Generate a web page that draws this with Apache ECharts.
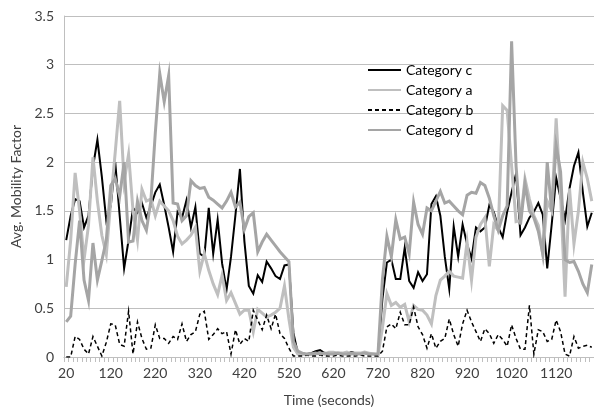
<!DOCTYPE html>
<html>
<head>
<meta charset="utf-8">
<script src="https://cdn.jsdelivr.net/npm/echarts@6/dist/echarts.min.js"></script>
<style>
html,body{margin:0;padding:0;background:#fff;}
#chart{width:594px;height:412px;}
</style>
</head>
<body>
<div id="chart"></div>
<script>
// Time categories (seconds), one every 10 s
var times = [];
for (var t = 20; t <= 1200; t += 10) times.push(String(t));

var seriesNames = ['Category c', 'Category a', 'Category b', 'Category d'];

var catC = [
  1.2, 1.45, 1.62, 1.6, 1.33, 1.45, 1.95, 2.23, 1.85, 1.4,
  1.55, 2.0, 1.45, 0.91, 1.2, 1.53, 1.48, 1.58, 1.43, 1.55,
  1.69, 1.77, 1.56, 1.33, 1.08, 1.49, 1.43, 1.61, 1.33, 1.54,
  1.06, 1.03, 1.53, 1.06, 1.41, 0.96, 0.69, 1.03, 1.46, 1.93,
  1.19, 0.73, 0.65, 0.84, 0.77, 0.98, 0.91, 0.83, 0.8, 0.94,
  0.95, 0.25, 0.04, 0.03, 0.03, 0.04, 0.06, 0.07, 0.04, 0.04,
  0.03, 0.03, 0.04, 0.03, 0.05, 0.04, 0.04, 0.04, 0.03, 0.03,
  0.02, 0.6, 0.97, 1.0, 0.8, 0.8, 1.12, 0.78, 0.71, 0.87,
  0.78, 0.85, 1.57, 1.65, 1.45, 1.03, 0.7, 1.34, 1.03, 1.36,
  1.16, 1.01, 1.33, 1.29, 1.33, 1.56, 1.49, 1.33, 1.23, 1.49,
  1.69, 1.88, 1.25, 1.33, 1.43, 1.49, 1.58, 1.46, 0.91, 1.36,
  1.84, 1.63, 1.41, 1.73, 1.96, 2.1, 1.69, 1.34, 1.48
];

var catA = [
  0.72, 1.2, 1.89, 1.5, 1.0, 1.35, 2.05, 1.6, 1.25, 1.05,
  1.6, 2.1, 2.63, 1.8, 2.08, 1.5, 1.2, 1.72, 1.6, 1.62,
  1.45, 1.6, 1.55, 1.5, 1.4, 1.24, 1.16, 1.2, 1.25, 1.33,
  0.88, 1.06, 0.89, 0.75, 0.64, 0.84, 0.58, 0.66, 0.55, 0.44,
  0.48, 0.48, 0.26, 0.49, 0.45, 0.41, 0.43, 0.46, 0.5, 0.73,
  0.39, 0.1, 0.03, 0.03, 0.02, 0.03, 0.03, 0.04, 0.03, 0.05,
  0.05, 0.04, 0.04, 0.05, 0.03, 0.04, 0.04, 0.05, 0.04, 0.03,
  0.02, 0.3, 0.65, 0.53, 0.56, 0.51, 0.54, 0.36, 0.53, 0.49,
  0.48, 0.43, 0.34, 0.63, 0.79, 0.83, 0.88, 0.83, 0.82, 0.81,
  1.18, 0.79, 1.23, 1.36, 1.43, 0.93, 1.36, 1.3, 2.58, 2.53,
  1.96, 1.39, 1.4, 1.83, 1.62, 1.45, 1.35, 1.05, 1.6, 1.5,
  2.45, 1.65, 0.62, 1.73, 1.16, 1.5, 2.0, 1.83, 1.6
];

var catB = [
  0.0, 0.0, 0.21, 0.18, 0.08, 0.03, 0.21, 0.11, 0.01, 0.15,
  0.34, 0.33, 0.13, 0.11, 0.47, 0.03, 0.36, 0.19, 0.08, 0.09,
  0.33, 0.19, 0.19, 0.14, 0.21, 0.18, 0.34, 0.16, 0.23, 0.26,
  0.44, 0.47, 0.18, 0.23, 0.29, 0.24, 0.26, 0.03, 0.28, 0.13,
  0.19, 0.16, 0.48, 0.38, 0.28, 0.43, 0.29, 0.44, 0.24, 0.19,
  0.09, 0.01, 0.01, 0.01, 0.02, 0.01, 0.01, 0.02, 0.01, 0.01,
  0.01, 0.02, 0.01, 0.01, 0.01, 0.01, 0.02, 0.01, 0.01, 0.01,
  0.01, 0.06, 0.31, 0.34, 0.29, 0.46, 0.33, 0.33, 0.51, 0.31,
  0.23, 0.09, 0.24, 0.09, 0.16, 0.19, 0.39, 0.23, 0.11, 0.34,
  0.48, 0.36, 0.26, 0.16, 0.29, 0.24, 0.14, 0.23, 0.18, 0.11,
  0.33, 0.19, 0.08, 0.08, 0.53, 0.03, 0.28, 0.26, 0.16, 0.18,
  0.38, 0.26, 0.03, 0.01, 0.21, 0.09, 0.11, 0.12, 0.1
];

var catD = [
  0.36, 0.42, 0.95, 1.4, 0.79, 0.58, 1.17, 0.79, 0.99, 1.2,
  1.76, 1.83, 1.65, 2.0, 1.18, 1.19, 1.6, 1.4, 1.3, 1.6,
  2.3, 2.91, 2.62, 2.89, 1.58, 1.57, 1.4, 1.45, 1.81, 1.76,
  1.73, 1.74, 1.64, 1.61, 1.57, 1.53, 1.6, 1.69, 1.54, 1.59,
  1.31, 1.44, 1.48, 1.08, 1.18, 1.26, 1.2, 1.14, 1.08, 1.03,
  0.98, 0.16, 0.06, 0.04, 0.03, 0.03, 0.04, 0.03, 0.04, 0.03,
  0.03, 0.04, 0.03, 0.03, 0.04, 0.03, 0.03, 0.04, 0.03, 0.03,
  0.03, 0.8, 1.24, 1.03, 1.41, 1.21, 1.23, 1.06, 1.59, 1.36,
  1.26, 1.53, 1.5, 1.6, 1.7, 1.58, 1.6, 1.55, 1.5, 1.46,
  1.66, 1.69, 1.68, 1.79, 1.76, 1.63, 1.45, 1.3, 1.45, 1.55,
  3.24, 1.96, 1.36, 1.78, 1.5, 1.43, 1.29, 1.06, 2.0, 1.49,
  2.17, 1.9, 1.0, 0.97, 0.98, 0.88, 0.75, 0.66, 0.95
];

var yTicks = { min: 0, max: 3.5, interval: 0.5 };

var FONT = 'Lato, "Open Sans", sans-serif';
var TEXT = '#404040';
var GRID = '#BFBFBF';

var chart = echarts.init(document.getElementById('chart'), null, { renderer: 'canvas' });

function lineSeries(name, data, color, width, type) {
  return {
    name: name,
    type: 'line',
    data: data,
    symbol: 'none',
    showSymbol: false,
    smooth: false,
    animation: false,
    lineStyle: { color: color, width: width, type: type, join: 'miter' },
    itemStyle: { color: color }
  };
}

chart.setOption({
  animation: false,
  backgroundColor: '#ffffff',
  textStyle: { fontFamily: FONT },
  grid: { left: 64, top: 16, right: -2, bottom: 46, containLabel: false },
  legend: {
    orient: 'vertical',
    left: 367,
    top: 63,
    padding: 0,
    itemWidth: 33,
    itemHeight: 14,
    itemGap: 6,
    itemStyle: { opacity: 0, borderWidth: 0 },
    textStyle: { fontFamily: FONT, fontSize: 14, lineHeight: 14, color: '#000' },
    data: seriesNames
  },
  xAxis: {
    type: 'category',
    data: times,
    boundaryGap: true,
    name: 'Time (seconds)',
    nameLocation: 'middle',
    nameGap: 36,
    nameTextStyle: { fontFamily: FONT, fontSize: 14, color: TEXT },
    axisLine: { lineStyle: { color: GRID, width: 1 } },
    axisTick: { show: true, interval: 0, length: 5, lineStyle: { color: GRID } },
    axisLabel: { interval: 9, fontFamily: FONT, fontSize: 14, color: TEXT, margin: 9 },
    splitLine: { show: false }
  },
  yAxis: {
    type: 'value',
    min: yTicks.min,
    max: yTicks.max,
    interval: yTicks.interval,
    name: 'Avg. Mobility Factor',
    nameLocation: 'middle',
    nameGap: 40,
    nameTextStyle: { fontFamily: FONT, fontSize: 14, color: TEXT },
    axisLine: { show: true, lineStyle: { color: GRID, width: 1 } },
    axisTick: { show: false },
    axisLabel: { fontFamily: FONT, fontSize: 14, color: TEXT, margin: 10 },
    splitLine: { show: true, lineStyle: { color: GRID, width: 1 } }
  },
  series: [
    lineSeries(seriesNames[0], catC, '#000000', 2, 'solid'),
    lineSeries(seriesNames[1], catA, '#BFBFBF', 3, 'solid'),
    lineSeries(seriesNames[2], catB, '#000000', 1.5, [4, 3]),
    lineSeries(seriesNames[3], catD, '#A5A5A5', 3, 'solid')
  ]
});
</script>
</body>
</html>
